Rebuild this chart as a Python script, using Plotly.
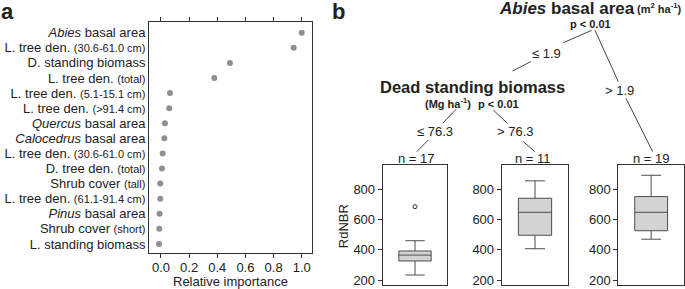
import plotly.graph_objects as go

W, H = 685, 289
FONT = "Liberation Sans, Arial, sans-serif"

# ---- Panel a data: relative importance ----
imp_labels = [
    "<i>Abies</i> basal area",
    "L. tree den. <span style='font-size:11px'>(30.6-61.0 cm)</span>",
    "D. standing biomass",
    "L. tree den. <span style='font-size:11px'>(total)</span>",
    "L. tree den. <span style='font-size:11px'>(5.1-15.1 cm)</span>",
    "L. tree den. <span style='font-size:11px'>(>91.4 cm)</span>",
    "<i>Quercus</i> basal area",
    "<i>Calocedrus</i> basal area",
    "L. tree den. <span style='font-size:11px'>(30.6-61.0 cm)</span>",
    "D. tree den. <span style='font-size:11px'>(total)</span>",
    "Shrub cover <span style='font-size:11px'>(tall)</span>",
    "L. tree den. <span style='font-size:11px'>(61.1-91.4 cm)</span>",
    "<i>Pinus</i> basal area",
    "Shrub cover <span style='font-size:11px'>(short)</span>",
    "L. standing biomass",
]
imp_values = [1.0, 0.943, 0.49, 0.379, 0.064, 0.059, 0.028, 0.024, 0.012, 0.007,
              -0.005, -0.005, -0.01, -0.012, -0.014]
imp_ticks = [0.0, 0.2, 0.4, 0.6, 0.8, 1.0]

# ---- Panel b data: terminal node boxplots (RdNBR) ----
node_n = [17, 11, 19]
box_lower = [233, 407, 470]
box_q1 = [326, 496, 526]
box_median = [365, 648, 648]
box_q3 = [392, 741, 752]
box_upper = [460, 856, 893]
outliers = [[685], [], []]
rdnbr_ticks = [200, 400, 600, 800]


def px(x):
    return x / W


def py(y):
    return 1 - y / H


fig = go.Figure()

fig.add_trace(go.Scatter(
    x=imp_values, y=list(range(len(imp_values))), mode="markers",
    marker=dict(color="#8f8f8f", size=6), xaxis="x", yaxis="y",
    showlegend=False, hoverinfo="skip"))

panel_x = [(382.7, 447.3), (501.7, 568.3), (618.3, 684.0)]
for i in range(3):
    ax = str(i + 2)
    fig.add_trace(go.Box(
        x=[0], q1=[box_q1[i]], median=[box_median[i]], q3=[box_q3[i]],
        lowerfence=[box_lower[i]], upperfence=[box_upper[i]],
        width=0.5, whiskerwidth=0.6, boxpoints=False,
        fillcolor="#d3d3d3", line=dict(color="#4d4d4d", width=1),
        xaxis="x" + ax, yaxis="y" + ax, showlegend=False, hoverinfo="skip"))
    if outliers[i]:
        fig.add_trace(go.Scatter(
            x=[0] * len(outliers[i]), y=outliers[i], mode="markers",
            marker=dict(symbol="circle-open", size=4, color="#333",
                        line=dict(width=1)),
            xaxis="x" + ax, yaxis="y" + ax, showlegend=False, hoverinfo="skip"))

axis_common = dict(showgrid=False, zeroline=False, showline=True,
                   linecolor="#333", linewidth=1, automargin=False,
                   tickfont=dict(size=13, color="#222", family=FONT),
                   tickcolor="#333")

layout = dict(
    width=W, height=H, margin=dict(l=0, r=0, t=0, b=0),
    paper_bgcolor="white", plot_bgcolor="white",
    font=dict(family=FONT, color="#222"),
    showlegend=False,
    xaxis=dict(domain=[px(149), px(312)], anchor="y", range=[-0.085, 1.073],
               tickvals=imp_ticks, ticktext=[f"{v:.1f}" for v in imp_ticks],
               ticks="outside", ticklen=4, mirror="ticks",
               ticklabelstandoff=-2, **axis_common),
    yaxis=dict(domain=[py(253), py(22)], anchor="x", range=[14.6, -0.71],
               tickvals=list(range(len(imp_labels))), ticktext=imp_labels,
               ticks="", mirror=True, **axis_common),
)
for i in range(3):
    ax = str(i + 2)
    layout["xaxis" + ax] = dict(domain=[px(panel_x[i][0]), px(panel_x[i][1])],
                                anchor="y" + ax, range=[-0.5, 0.5],
                                showticklabels=False, ticks="", mirror=True,
                                **axis_common)
    layout["yaxis" + ax] = dict(domain=[py(285), py(165)], anchor="x" + ax,
                                range=[167, 961], tickvals=rdnbr_ticks,
                                ticks="outside", ticklen=4, mirror=True,
                                **axis_common)
fig.update_layout(**layout)

# ---- tree diagram (branches + labels) ----
branches = [
    ((591.7, 30.3), (563.3, 42.7)),
    ((531.0, 61.5), (512.5, 71.0)),
    ((595.0, 30.3), (618.3, 81.7)),
    ((626.0, 98.3), (652.7, 151.7)),
    ((456.0, 109.3), (442.7, 123.3)),
    ((428.3, 140.0), (416.7, 151.7)),
    ((493.3, 110.0), (507.3, 123.3)),
    ((523.3, 141.7), (535.0, 151.7)),
]
for (x0, y0), (x1, y1) in branches:
    fig.add_shape(type="line", xref="paper", yref="paper",
                  x0=px(x0), y0=py(y0), x1=px(x1), y1=py(y1),
                  line=dict(color="#444", width=1))


def ann(x, y, text, size, **kw):
    fig.add_annotation(x=px(x), y=py(y), xref="paper", yref="paper",
                       text=text, showarrow=False, xanchor=kw.pop("xanchor", "center"),
                       yanchor="middle", font=dict(size=size, family=FONT,
                                                   color="#222"), **kw)


ann(8, 11, "<b>a</b>", 22)
ann(338, 11, "<b>b</b>", 22)
ann(230.5, 281.5, "Relative importance", 13)
ann(343.5, 226.7, "RdNBR", 13, textangle=-90)

ann(566.5, 8.5, "<b><i>Abies</i> basal area</b>", 17)
ann(659, 8, "<b>(m<sup>2</sup> ha<sup>-1</sup>)</b>", 11)
ann(590, 24, "<b>p < 0.01</b>", 11)
ann(546.7, 53.3, "\u2264 1.9", 13)
ann(619.5, 90.7, "> 1.9", 13)
ann(472.5, 86.5, "<b>Dead standing biomass</b>", 16.5)
ann(447.5, 103.3, "<b>(Mg ha<sup>-1</sup>)</b>", 11)
ann(499, 103.8, "<b>p < 0.01</b>", 11)
ann(435, 131.7, "\u2264 76.3", 13)
ann(515.8, 131.7, "> 76.3", 13)
for i in range(3):
    cx = (panel_x[i][0] + panel_x[i][1]) / 2
    ann(cx + [1, -2, 0][i], 158.5, f"n = {node_n[i]}", 13)

fig.write_html("out.html", config={"displayModeBar": False},
               post_script="document.body.style.margin='0';"
                           "document.body.style.overflow='hidden';")
